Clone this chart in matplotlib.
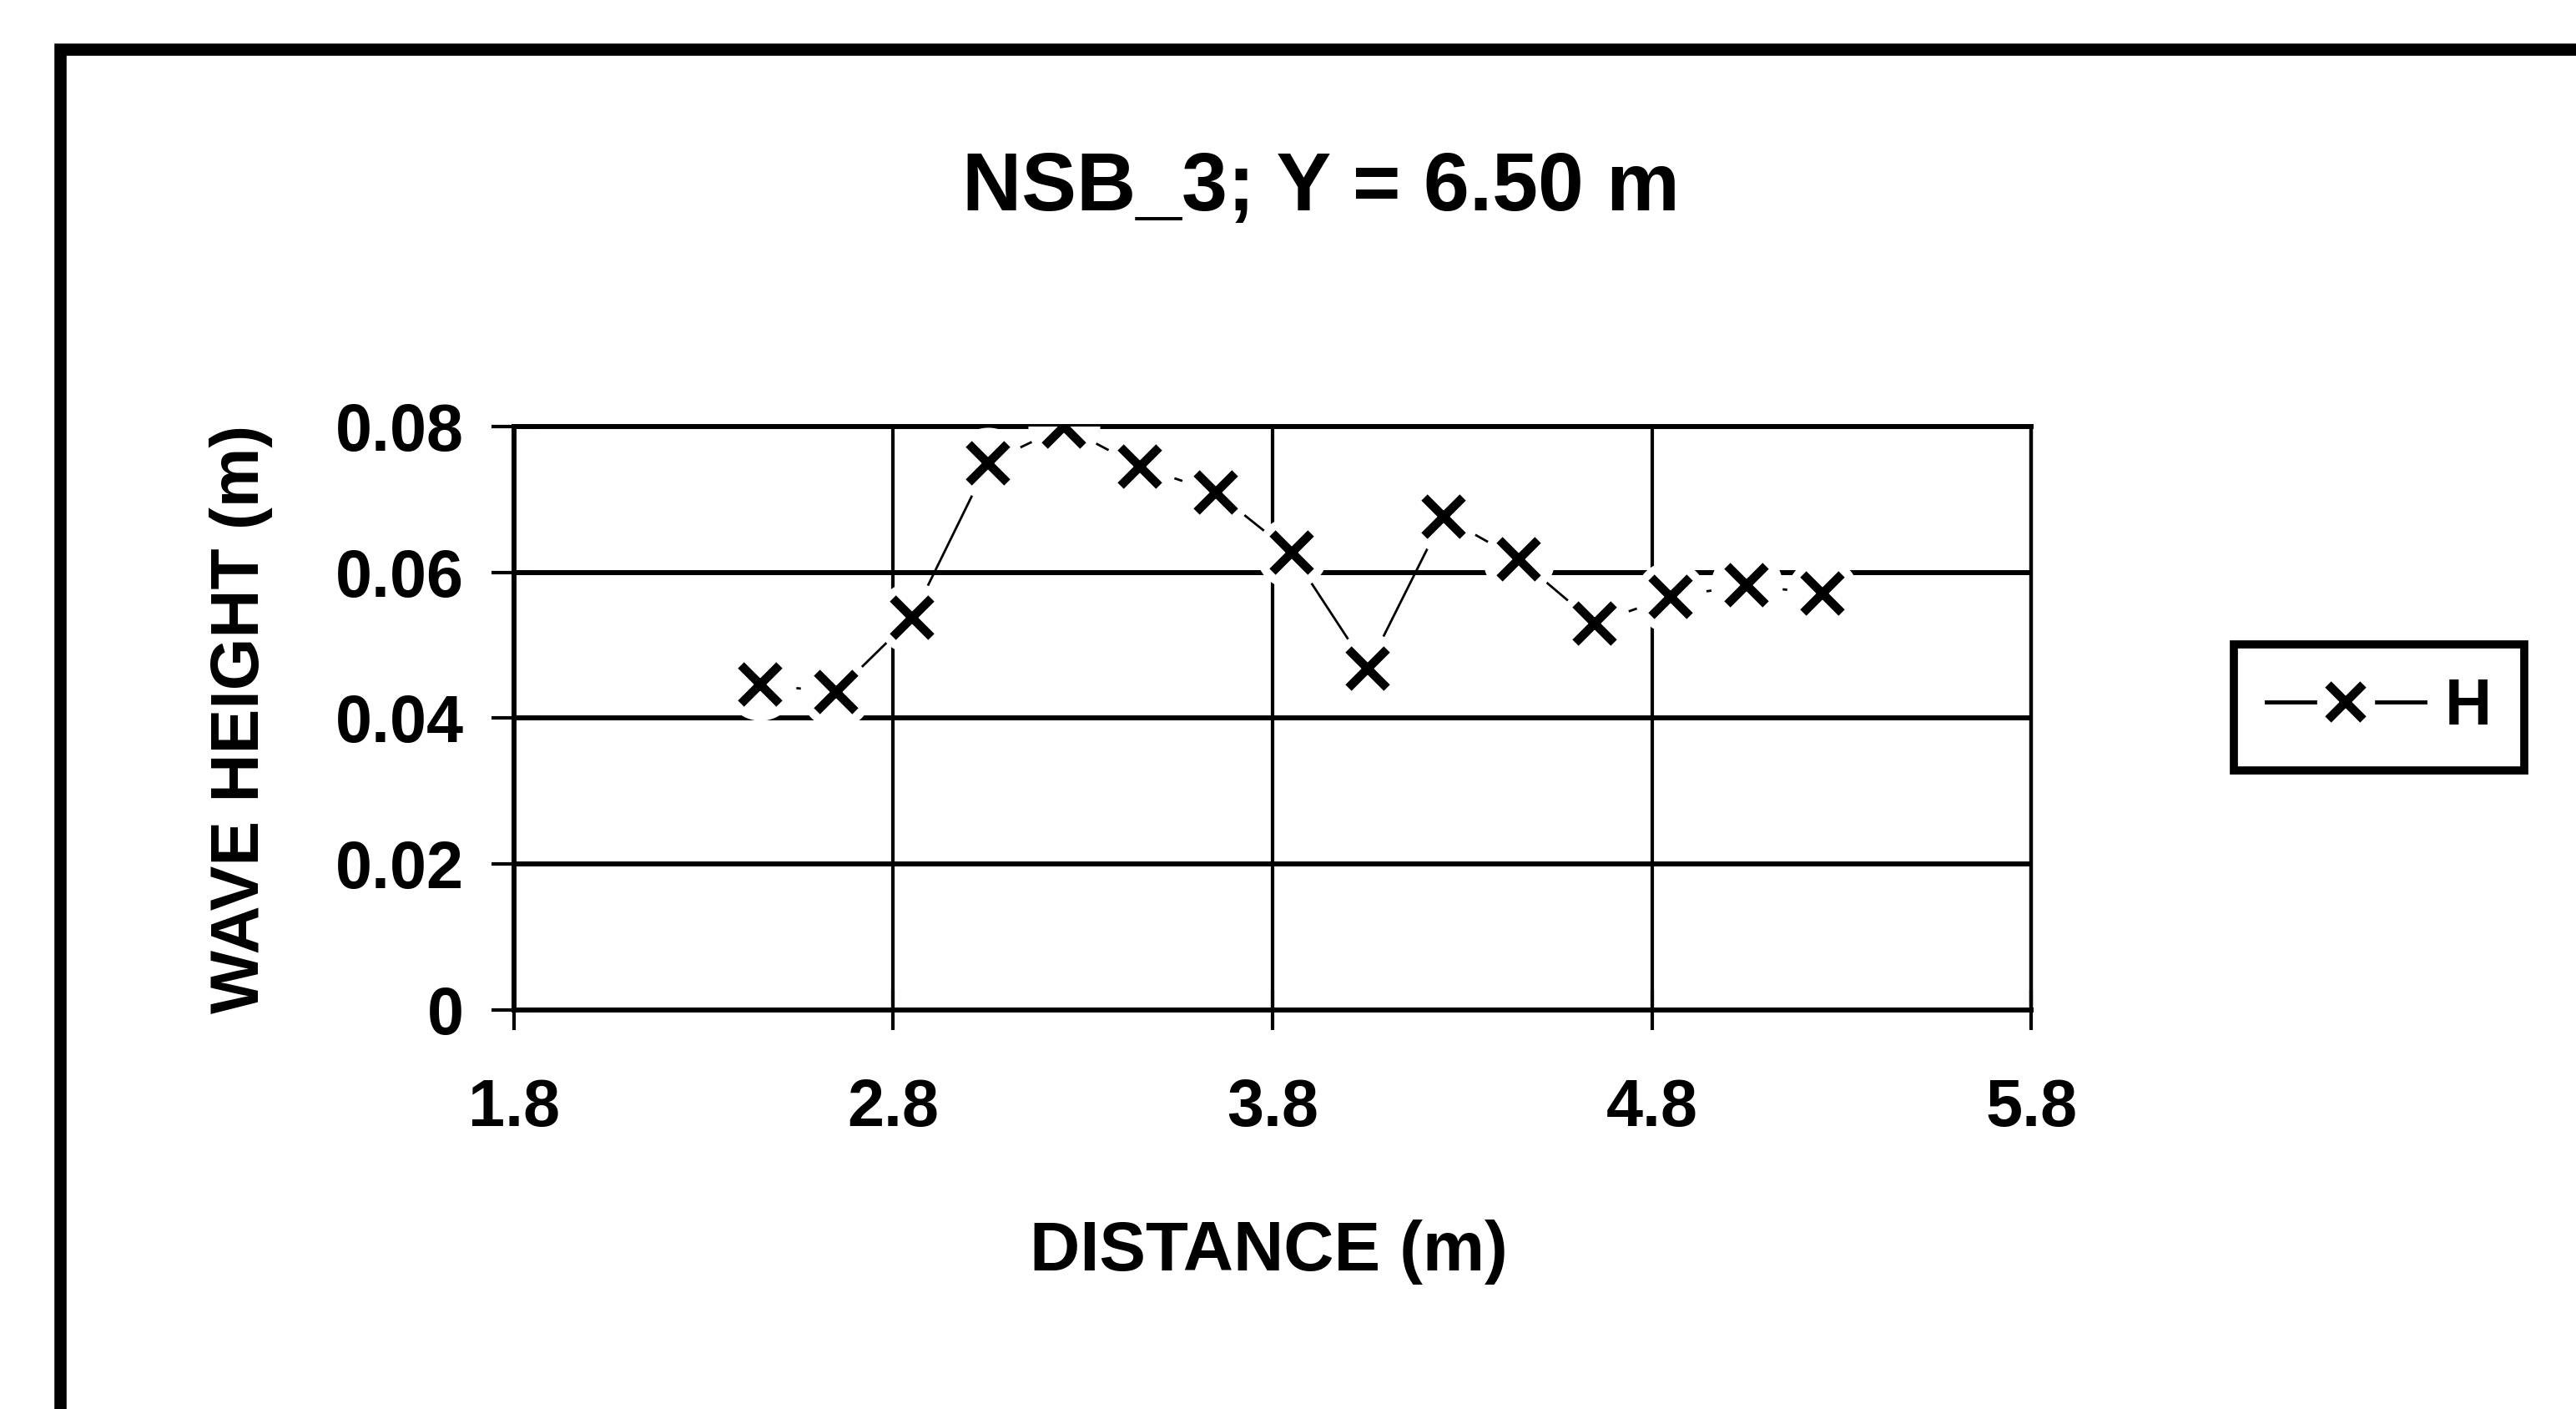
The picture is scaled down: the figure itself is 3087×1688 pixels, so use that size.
import matplotlib
matplotlib.use("Agg")
import matplotlib.pyplot as plt
from matplotlib.patches import Rectangle
from matplotlib.lines import Line2D
from matplotlib.legend_handler import HandlerTuple

# ---- data ----
distance = [2.45, 2.65, 2.85, 3.05, 3.25, 3.45, 3.65, 3.85, 4.05, 4.25, 4.45, 4.65, 4.85, 5.05, 5.25]
wave_height = [0.0446, 0.0436, 0.0538, 0.0750, 0.0800, 0.0745, 0.0710, 0.0627, 0.0468,
               0.0676, 0.0618, 0.0530, 0.0567, 0.0582, 0.0571]
x_ticks = [1.8, 2.8, 3.8, 4.8, 5.8]
y_ticks = [0, 0.02, 0.04, 0.06, 0.08]
y_tick_labels = ["0", "0.02", "0.04", "0.06", "0.08"]
title_text = "NSB_3; Y = 6.50 m"
x_label = "DISTANCE (m)"
y_label = "WAVE HEIGHT (m)"
series_name = "H"

plt.rcParams['font.family'] = ['Liberation Sans', 'DejaVu Sans']
plt.rcParams['font.weight'] = 'bold'

fig = plt.figure(figsize=(30.87, 16.88), dpi=100)
fig.patch.set_facecolor('white')

# outer frame of the scanned page
fig.add_artist(Rectangle((0.0233, -0.2), 1.3, 1.165, transform=fig.transFigure,
                         fill=False, edgecolor='black', linewidth=10.5))

ax = fig.add_axes([0.1995, 0.2832, 0.7885 - 0.1995, 0.6973 - 0.2832])
ax.set_xlim(1.8, 5.8)
ax.set_ylim(0, 0.08)

# grid
for yv in y_ticks[1:-1]:
    ax.axhline(yv, color='black', lw=4.3, zorder=1)
for xv in x_ticks[1:-1]:
    ax.axvline(xv, color='black', lw=3.0, zorder=1)

for side in ['left', 'bottom', 'top']:
    ax.spines[side].set_linewidth(4.3)
ax.spines['right'].set_linewidth(3.2)
for s in ax.spines.values():
    s.set_zorder(1)

ax.set_xticks(x_ticks)
ax.set_xticklabels([f"{v:.1f}" for v in x_ticks])
ax.set_yticks(y_ticks)
ax.set_yticklabels(y_tick_labels)
ax.tick_params(axis='y', direction='inout', length=39, width=3, pad=24, labelsize=57)
ax.tick_params(axis='x', direction='inout', length=35, width=3, pad=41, labelsize=57)

# series: line, white halo, x markers
ln, = ax.plot(distance, wave_height, color='black', lw=2.0, zorder=2)
halo, = ax.plot(distance, wave_height, linestyle='none', marker='o', markersize=62,
                markerfacecolor='white', markeredgecolor='none', zorder=3)
mk, = ax.plot(distance, wave_height, linestyle='none', marker='x', markersize=33,
              markeredgewidth=7.5, color='black', zorder=4)

fig.text(0.5128, 0.866, title_text, ha='center', va='center', fontsize=71, fontweight='bold')
fig.text(0.4925, 0.1115, x_label, ha='center', va='center', fontsize=60, fontweight='bold')
fig.text(0.0935, 0.4895, y_label, ha='center', va='center', rotation=90, fontsize=58, fontweight='bold')

# legend
lh_line = Line2D([], [], color='black', lw=3.5)
lh_halo = Line2D([], [], linestyle='none', marker='o', markersize=50, markerfacecolor='white', markeredgecolor='none')
lh_mk = Line2D([], [], linestyle='none', marker='x', markersize=30, markeredgewidth=7.5, color='black')
leg = fig.legend([(lh_line, lh_halo, lh_mk)], [series_name],
                 handler_map={tuple: HandlerTuple(ndivide=1, pad=0)},
                 loc='center', bbox_to_anchor=(0.9235, 0.498), fontsize=56,
                 frameon=True, fancybox=False, edgecolor='black', framealpha=1,
                 handlelength=2.45, handletextpad=0.3, borderpad=0.5, borderaxespad=0)
leg.get_frame().set_linewidth(7)

fig.savefig("out.png", dpi=100, facecolor='white')
